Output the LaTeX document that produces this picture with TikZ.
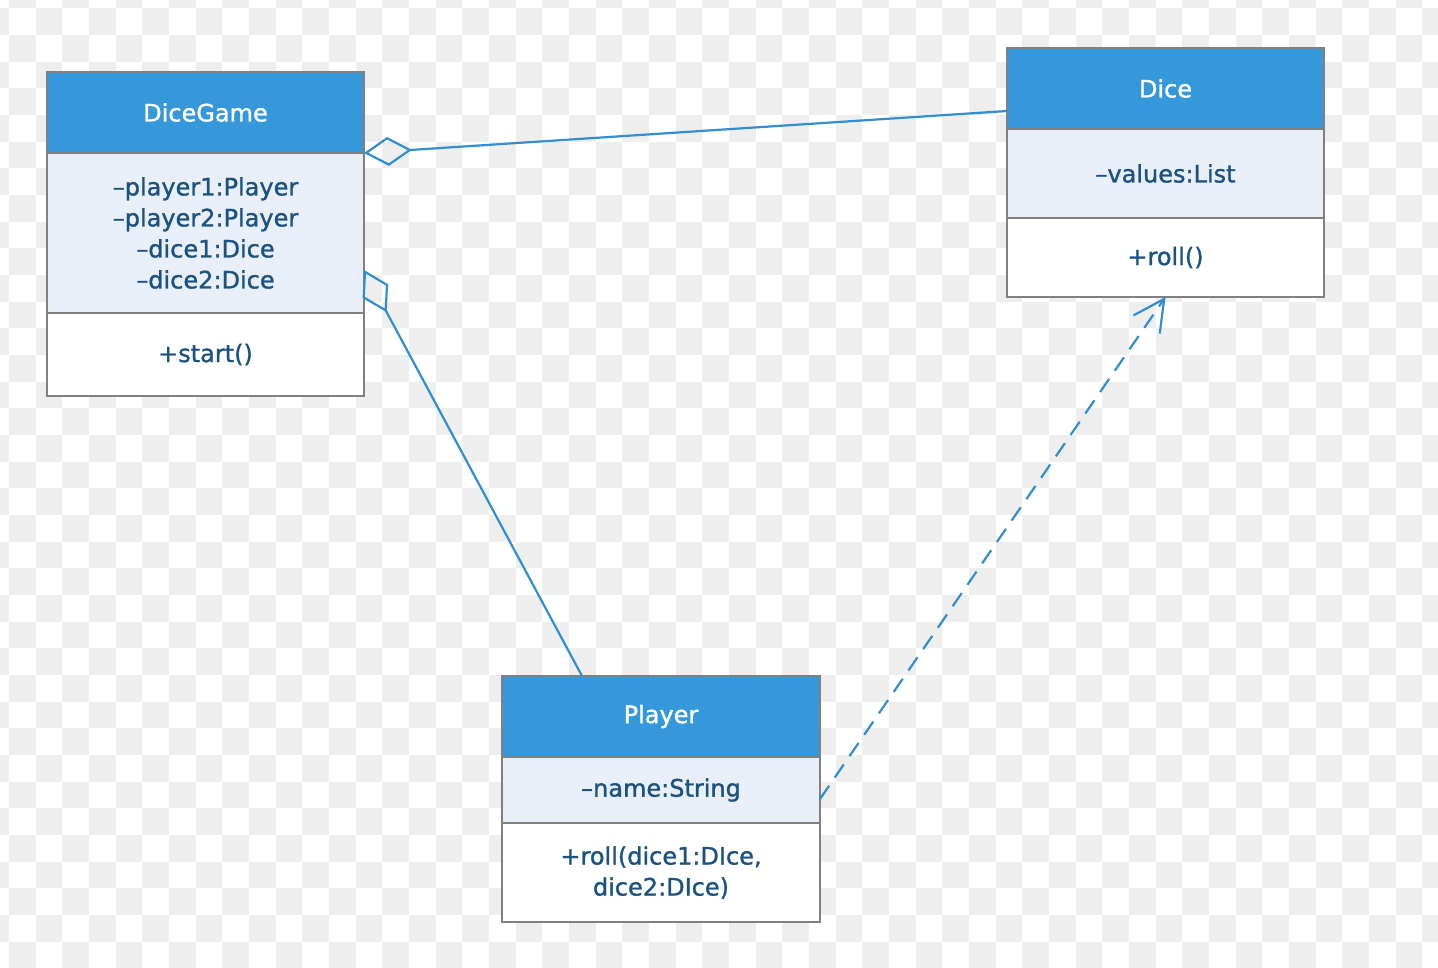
\documentclass[tikz,border=0pt]{standalone}
\usepackage{fontspec}
\setmainfont{DejaVu Sans}[FakeBold=1.2]
\usepackage{xcolor}
\usetikzlibrary{positioning,arrows.meta}

\definecolor{headblue}{RGB}{52,152,219}
\definecolor{attrblue}{RGB}{232,239,249}
\definecolor{boxgray}{RGB}{128,128,128}
\definecolor{txtblue}{RGB}{28,82,128}
\definecolor{linkblue}{RGB}{50,142,208}
\definecolor{checker}{RGB}{238,238,238}

\begin{document}
\begin{tikzpicture}[x=1pt, y=-1pt,
    head/.style={rectangle, draw=boxgray, line width=2pt, fill=headblue, text=white, outer sep=0pt,
        minimum width=317pt, minimum height=81pt, font=\fontsize{24}{31}\selectfont},
    attrs/.style={head, fill=attrblue, text=txtblue, align=center},
    ops/.style={attrs, fill=white},
    agg/.style={draw=linkblue, line width=2.2pt, {Diamond[open, length=48pt, width=29pt]}-},
    dep/.style={draw=linkblue, line width=2.2pt, dash pattern=on 16pt off 10pt, -{Straight Barb[length=31pt, width=32pt]}}]

    \useasboundingbox (0,0) rectangle (1438,968);

    % Background
    \begin{scope}
    \clip (0,0) rectangle (1438,968);
    \fill[white] (0,0) rectangle (1438,968);
    \foreach \i in {0,...,54} {
        \foreach \j in {0,...,36} {
            \pgfmathtruncatemacro\k{\i+\j}
            \ifodd\k
                \fill[checker] ({9+(\i-1)*26.667},{8.3+(\j-1)*26.667}) rectangle +(26.667,26.667);
            \fi
        }
    }
    \end{scope}

    % DiceGame
    \node[head] (game) at (205.5,112.5) {DiceGame};
    \node[attrs, minimum height=160pt, below=0pt of game] (game-attr)
        {–player1:Player\\–player2:Player\\–dice1:Dice\\–dice2:Dice};
    \node[ops, minimum height=83pt, below=0pt of game-attr] (game-ops) {+start()};

    % Dice
    \node[head] (dice) at (1165.5,88.5) {Dice};
    \node[attrs, minimum height=89pt, below=0pt of dice] (dice-attr) {–values:List};
    \node[ops, minimum height=79pt, below=0pt of dice-attr] (dice-ops) {+roll()};

    % Player
    \node[head, minimum width=318pt] (player) at (661,716.5) {Player};
    \node[attrs, minimum width=318pt, minimum height=66pt, below=0pt of player] (player-attr) {–name:String};
    \node[ops, minimum width=318pt, minimum height=99pt, below=0pt of player-attr] (player-ops)
        {+roll(dice1:DIce,\\dice2:DIce)};

    % Connectors
    \draw[agg] (game.south east) -- ([yshift=-22.5pt]dice.west);
    \draw[agg] ([yshift=-37pt]game-attr.east) -- ([xshift=-79pt]player.north);
    \draw[dep] ([yshift=-9pt]player-attr.east) -- (dice-ops.south);
\end{tikzpicture}
\end{document}
